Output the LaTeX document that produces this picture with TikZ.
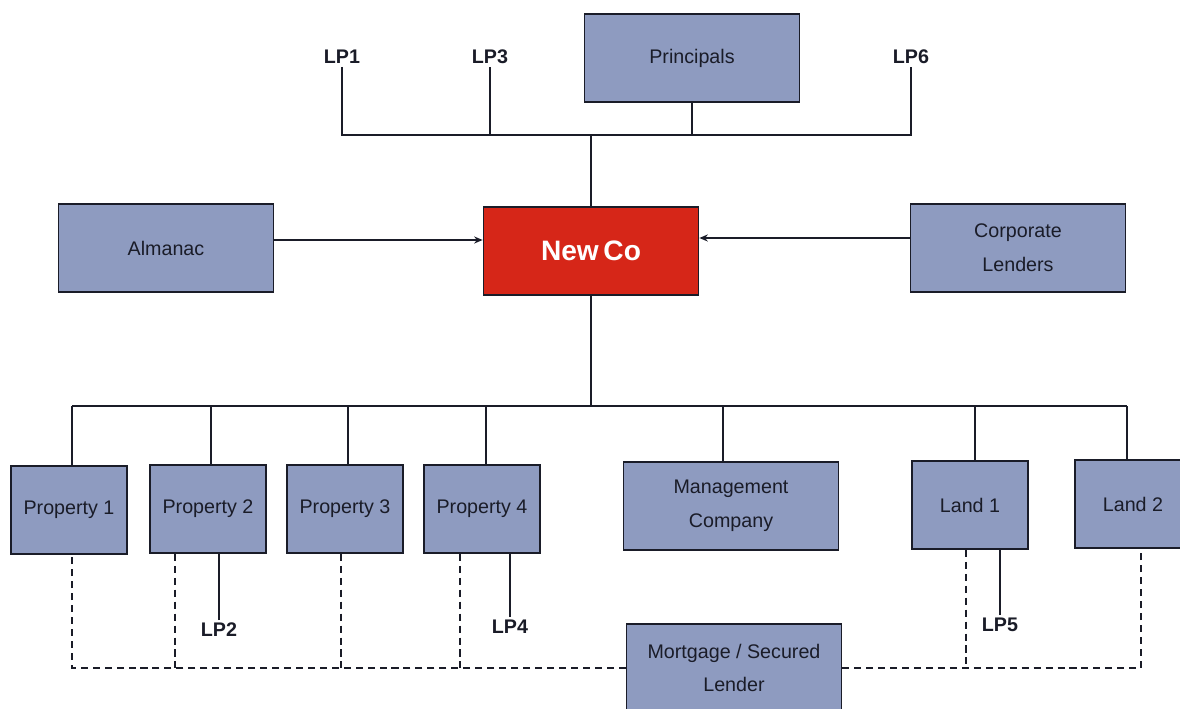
\documentclass[tikz,border=0pt]{standalone}
\usepackage{fontspec}
\setmainfont{Liberation Sans}
\usetikzlibrary{arrows.meta,positioning,calc}
\definecolor{boxfill}{RGB}{142,155,192}
\definecolor{newcored}{RGB}{214,38,24}
\definecolor{inkdark}{RGB}{26,28,40}

\begin{document}
\begin{tikzpicture}[x=0.025cm,y=-0.025cm,>={Stealth[length=6pt,width=5pt]},
  b/.style={draw=inkdark,line width=1.2pt,fill=boxfill,align=center,text=inkdark,minimum width=5.375cm,minimum height=2.2cm,font=\fontsize{14}{24}\selectfont},
  sb/.style={b,minimum width=2.9cm},
  lp/.style={font=\fontsize{14}{16}\selectfont\bfseries,text=inkdark,inner sep=2pt},
  ln/.style={draw=inkdark,line width=1.1pt},
  dl/.style={ln,dash pattern=on 5pt off 3.5pt}]
\fill[white] (0,0) rectangle (1180,709);
\useasboundingbox (0,0) rectangle (1180,709);
% top
\node[b] (princ) at (692,58) {Principals};
\node[lp] (lp1) at (342,57) {LP1};
\node[lp] (lp3) at (490,57) {LP3};
\node[lp] (lp6) at (911,57) {LP6};
\node[b] (alm) at (166,248) {Almanac};
\node[b,fill=newcored,text=white,font=\fontsize{20}{22}\selectfont\bfseries] (newco) at (591,251) {New\,Co};
\node[b] (corp) at (1018,248) {Corporate\\Lenders};
% subsidiaries
\node[sb] (p1) at (69,510) {Property 1};
\node[sb] (p2) at (208,509) {Property 2};
\node[sb] (p3) at (345,509) {Property 3};
\node[sb] (p4) at (482,509) {Property 4};
\node[b] (mgmt) at (731,506) {Management\\Company};
\node[sb] (l1) at (970,505) {Land 1};
\node[sb] (l2) at (1133,504) {Land 2};
\node[lp] (lp2) at (219,630) {LP2};
\node[lp] (lp4) at (510,627) {LP4};
\node[lp] (lp5) at (1000,625) {LP5};
\node[b] (mort) at (734,668) {Mortgage / Secured\\Lender};
% ownership lines
\coordinate (tb) at (592,135);
\coordinate (bb) at (592,406);
\draw[ln] (lp1.south) -- (lp1.south |- tb) -- (lp6.south |- tb) -- (lp6.south);
\draw[ln] (lp3.south) -- (lp3.south |- tb);
\draw[ln] (princ.south) -- (princ.south |- tb);
\draw[ln] (newco.north) -- (newco.north |- tb);
\draw[ln] (newco.south) -- (newco.south |- bb);
\foreach \n/\dx in {p1/3,p2/3,p3/3,p4/4,mgmt/-8,l1/5,l2/-6}
  \coordinate (u-\n) at ($(\n.north)+(\dx,0)$);
\draw[ln] (u-p1 |- bb) -- (u-l2 |- bb);
\foreach \n in {p1,p2,p3,p4,mgmt,l1,l2}
  \draw[ln] (u-\n) -- (u-\n |- bb);
\foreach \n/\m in {lp2/p2,lp4/p4,lp5/l1}
  \draw[ln] (\n.north) -- (\n.north |- \m.south);
% lenders
\coordinate (almout) at ($(alm.east)+(0,-8)$);
\coordinate (corpout) at ($(corp.west)+(0,-10)$);
\draw[ln,->] (almout) -- (almout -| newco.west);
\draw[ln,->] (corpout) -- (corpout -| newco.east);
% security
\foreach \n/\dx in {p1/3,p2/-33,p3/-4,p4/-22,l1/-4,l2/8}
  \coordinate (d-\n) at ($(\n.south)+(\dx,0)$);
\draw[dl] (mort.west) -| (d-p1);
\draw[dl] (mort.east) -| (d-l2);
\foreach \n in {p2,p3,p4}
  \draw[dl] (d-\n) -- (d-\n |- mort.west);
\draw[dl] (d-l1) -- (d-l1 |- mort.east);
\end{tikzpicture}
\end{document}
